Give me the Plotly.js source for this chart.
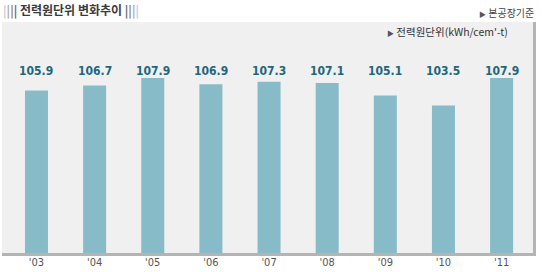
<!DOCTYPE html>
<html>
<head>
<meta charset="utf-8">
<script src="https://cdn.plot.ly/plotly-3.0.1.min.js"></script>
<style>
html,body{margin:0;padding:0;background:#fff;}
#chart{width:542px;height:272px;}
</style>
</head>
<body>
<div id="chart"></div>
<script>
// Data
const years = ["'03", "'04", "'05", "'06", "'07", "'08", "'09", "'10", "'11"];
const values = [105.9, 106.7, 107.9, 106.9, 107.3, 107.1, 105.1, 103.5, 107.9];
const chartTitle = "전력원단위 변화추이";
const basisNote = "본공장기준";
const unitNote = "전력원단위(kWh/cem'-t)";

const numFont = "'Liberation Sans Narrow', 'DejaVu Sans Condensed', Roboto, sans-serif";
const korFont = "'Noto Sans CJK KR', 'Noto Sans', sans-serif";

const trace = {
  type: 'bar',
  x: years,
  y: values,
  width: 0.396,
  marker: {color: '#88bbc8', line: {width: 0}},
  hoverinfo: 'none'
};

const annotations = years.map((yr, i) => ({
  x: yr, xref: 'x', y: 0.789, yref: 'paper',
  text: '<b>' + values[i].toFixed(1) + '</b>',
  showarrow: false, xanchor: 'center', yanchor: 'middle',
  font: {family: numFont, size: 12, color: '#1d677d'}
}));

const bars = (cols) => cols.map(c => '<span style="color:' + c + '">|</span>').join('');

annotations.push({
  x: -0.002, xref: 'paper', y: 1.052, yref: 'paper',
  xanchor: 'left', yanchor: 'middle', showarrow: false,
  text: '<b>' + bars(['#cccccc','#aaaaaa','#888888','#666666']) + '</b> <b>' + chartTitle + '</b> <b>' + bars(['#666666','#888888','#aaaaaa','#cccccc']) + '</b>',
  font: {family: korFont, size: 12, color: '#3a3a3a'}
});
annotations.push({
  x: 1.006, xref: 'paper', y: 1.043, yref: 'paper',
  xanchor: 'right', yanchor: 'middle', showarrow: false,
  text: '<span style="font-size:7px;color:#555">▶</span> ' + basisNote,
  font: {family: korFont, size: 10, color: '#444'}
});
annotations.push({
  x: 0.957, xref: 'paper', y: 0.957, yref: 'paper',
  xanchor: 'right', yanchor: 'middle', showarrow: false,
  text: '<span style="font-size:7px;color:#555">▶</span> ' + unitNote,
  font: {family: korFont, size: 10.5, color: '#333'}
});

const layout = {
  width: 542, height: 272,
  margin: {l: 2, r: 9, t: 22, b: 19, pad: 0},
  paper_bgcolor: '#ffffff',
  plot_bgcolor: '#f0f0f0',
  showlegend: false,
  bargap: 0.6,
  xaxis: {
    type: 'category',
    range: [-0.593, 8.54],
    showgrid: false, zeroline: false,
    showline: true, linecolor: '#b4b4b4', linewidth: 3,
    ticks: '', ticklabelstandoff: -3,
    tickfont: {family: numFont, size: 11, color: '#555'},
    fixedrange: true
  },
  yaxis: {
    range: [79.86, 116.88],
    side: 'right',
    showgrid: false, zeroline: false,
    showline: true, linecolor: '#b4b4b4', linewidth: 3,
    showticklabels: false, ticks: '',
    fixedrange: true
  },
  annotations: annotations
};

Plotly.newPlot('chart', [trace], layout, {displayModeBar: false, staticPlot: true});
</script>
</body>
</html>
